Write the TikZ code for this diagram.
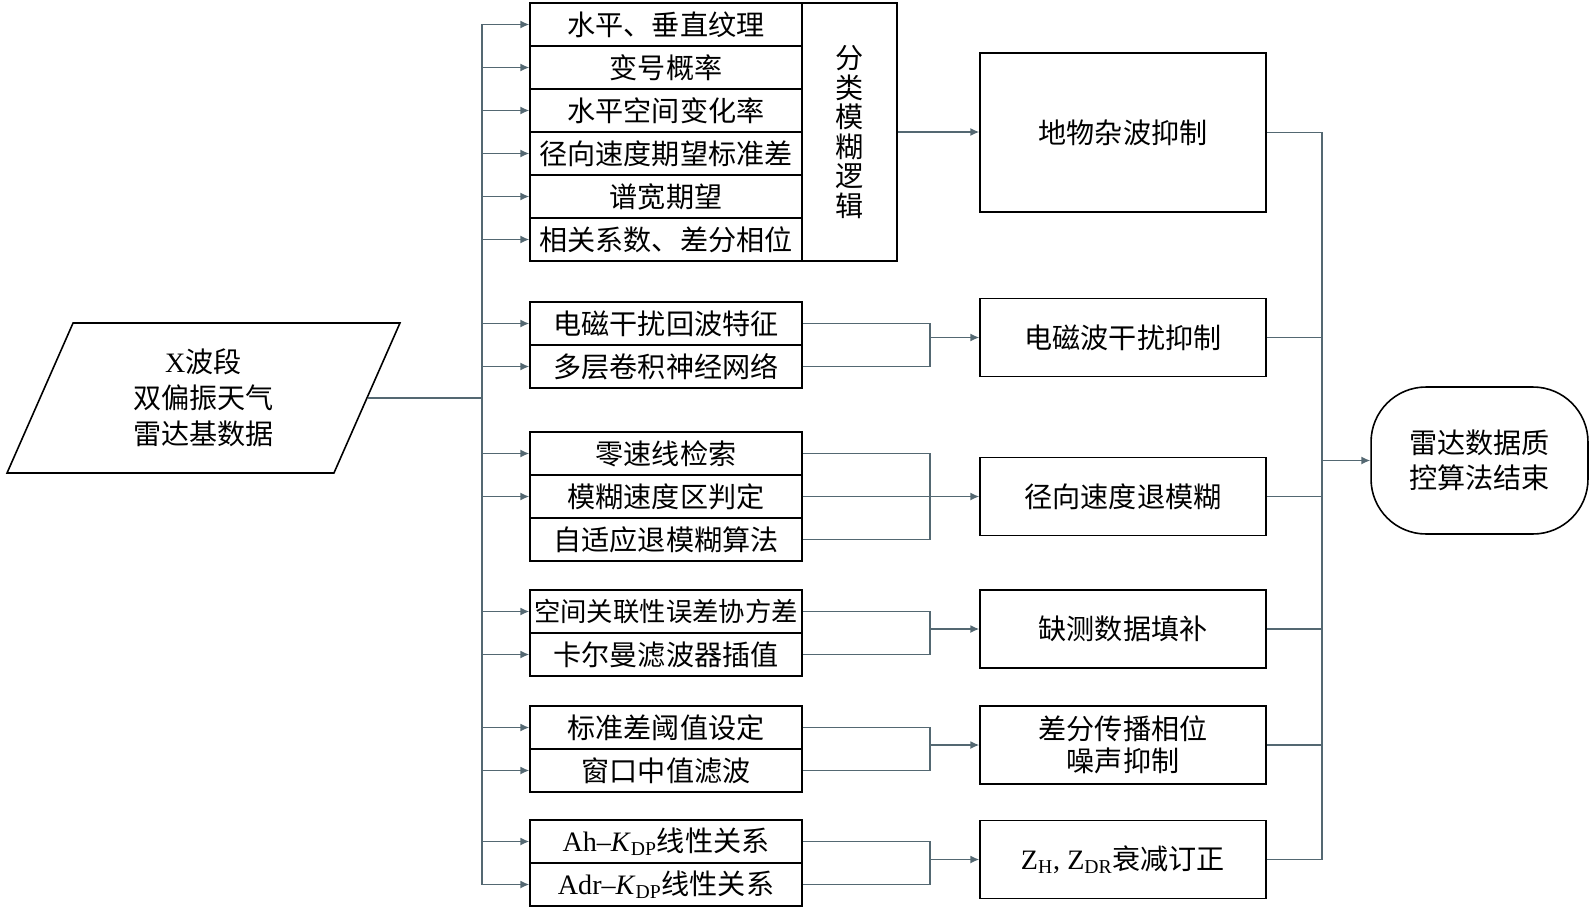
\documentclass[tikz,border=0pt]{standalone}
\usepackage{fontspec}
\setmainfont{Noto Sans CJK SC}
\newfontfamily\latin{Liberation Serif}
\usepackage{xcolor}
\usepackage{tikz}
\usetikzlibrary{arrows.meta,shapes.geometric,positioning}

\definecolor{wire}{RGB}{84,104,114}
\newcommand{\kdp}{\textit{K}\textsubscript{DP}}

\tikzset{
  item/.style={draw, line width=0.9pt, minimum width=5.44cm, minimum height=0.86cm,
    inner sep=0pt, font=\fontsize{16}{19}\selectfont},
  task/.style={draw, line width=0.9pt, minimum width=5.72cm, minimum height=1.56cm,
    inner sep=0pt, align=center, font=\fontsize{16}{19}\selectfont},
  wire/.style={color=wire, line width=0.8pt},
}

\begin{document}
\begin{tikzpicture}[x=0.02cm, y=-0.02cm, >={Latex[length=5pt,width=4.5pt]}]
\useasboundingbox (0,0) rectangle (1594,919);

% source
\node[draw, line width=0.9pt, trapezium, trapezium left angle=59, trapezium right angle=121,
  trapezium stretches body, minimum width=7.86cm, minimum height=3cm, align=center,
  font=\fontsize{16}{20.5}\selectfont] (src) at (203.5,398)
  {{\latin X}波段\\双偏振天气\\雷达基数据};

% feature boxes
\node[item] (t1) at (666,24.5)  {水平、垂直纹理};
\node[item] (t2) at (666,67.5)  {变号概率};
\node[item] (t3) at (666,110.5) {水平空间变化率};
\node[item] (t4) at (666,153.5) {径向速度期望标准差};
\node[item] (t5) at (666,196.5) {谱宽期望};
\node[item] (t6) at (666,239.5) {相关系数、差分相位};
\node[draw, line width=0.9pt, minimum width=1.9cm, minimum height=5.16cm, inner sep=0pt,
  align=center, font=\fontsize{16}{16.8}\selectfont] (fz) at (849.5,132)
  {分\\类\\模\\糊\\逻\\辑};

\node[item] (e1) at (666,323.5) {电磁干扰回波特征};
\node[item] (e2) at (666,366.5) {多层卷积神经网络};

\node[item] (v1) at (666,453.5) {零速线检索};
\node[item] (v2) at (666,496.5) {模糊速度区判定};
\node[item] (v3) at (666,539.5) {自适应退模糊算法};

\node[item, font=\fontsize{15}{18}\selectfont] (m1) at (666,611.5) {空间关联性误差协方差};
\node[item] (m2) at (666,654.5) {卡尔曼滤波器插值};

\node[item] (p1) at (666,727.5) {标准差阈值设定};
\node[item] (p2) at (666,770.5) {窗口中值滤波};

\node[item] (a1) at (666,841.5) {{\latin Ah–\kdp}线性关系};
\node[item] (a2) at (666,884.5) {{\latin Adr–\kdp}线性关系};

% processing steps
\node[task, minimum height=3.18cm] (clutter) at (1123,132.5) {地物杂波抑制};
\node[task] (emi)     at (1123,337.5) {电磁波干扰抑制};
\node[task] (dealias) at (1123,496.5) {径向速度退模糊};
\node[task] (fill)    at (1123,629)   {缺测数据填补};
\node[task, font=\fontsize{16}{18}\selectfont] (phase) at (1123,745) {差分传播相位\\噪声抑制};
\node[task] (atten)   at (1123,859.5) {{\latin Z\textsubscript{H}, Z\textsubscript{DR}}衰减订正};

\node[draw, line width=0.9pt, rounded corners=1.1cm, minimum width=4.34cm, minimum height=2.94cm,
  align=center, font=\fontsize{16}{20}\selectfont] (finish) at (1479.5,460.5)
  {雷达数据质\\控算法结束};

\coordinate (bus)  at (482,0);
\coordinate (brk)  at (930,0);
\coordinate (rbus) at (1322,0);

% input bus
\draw[wire] (t1.west -| bus) -- (a2.west -| bus);
\draw[wire] (src.east) -- (src.east -| bus);
\path[wire,->]
  (t1.west -| bus) edge (t1.west)
  (t2.west -| bus) edge (t2.west)
  (t3.west -| bus) edge (t3.west)
  (t4.west -| bus) edge (t4.west)
  (t5.west -| bus) edge (t5.west)
  (t6.west -| bus) edge (t6.west)
  (e1.west -| bus) edge (e1.west)
  (e2.west -| bus) edge (e2.west)
  (v1.west -| bus) edge (v1.west)
  (v2.west -| bus) edge (v2.west)
  (m1.west -| bus) edge (m1.west)
  (m2.west -| bus) edge (m2.west)
  (p1.west -| bus) edge (p1.west)
  (p2.west -| bus) edge (p2.west)
  (a1.west -| bus) edge (a1.west)
  (a2.west -| bus) edge (a2.west);

% brackets
\draw[wire] (e1.east) -- (e1.east -| brk) -- (e2.east -| brk) -- (e2.east);
\draw[wire] (v1.east) -- (v1.east -| brk) -- (v3.east -| brk) -- (v3.east);
\draw[wire] (v2.east) -- (v2.east -| brk);
\draw[wire] (m1.east) -- (m1.east -| brk) -- (m2.east -| brk) -- (m2.east);
\draw[wire] (p1.east) -- (p1.east -| brk) -- (p2.east -| brk) -- (p2.east);
\draw[wire] (a1.east) -- (a1.east -| brk) -- (a2.east -| brk) -- (a2.east);

\path[wire,->]
  (fz.east)        edge (fz.east -| clutter.west)
  (brk |- emi)     edge (emi.west)
  (brk |- dealias) edge (dealias.west)
  (brk |- fill)    edge (fill.west)
  (brk |- phase)   edge (phase.west)
  (brk |- atten)   edge (atten.west);

% output bus
\draw[wire] (clutter.east) -- (clutter.east -| rbus) -- (atten.east -| rbus) -- (atten.east);
\draw[wire] (emi.east) -- (emi.east -| rbus);
\draw[wire] (dealias.east) -- (dealias.east -| rbus);
\draw[wire] (fill.east) -- (fill.east -| rbus);
\draw[wire] (phase.east) -- (phase.east -| rbus);
\draw[wire,->] (rbus |- finish.west) -- (finish.west);
\end{tikzpicture}
\end{document}
